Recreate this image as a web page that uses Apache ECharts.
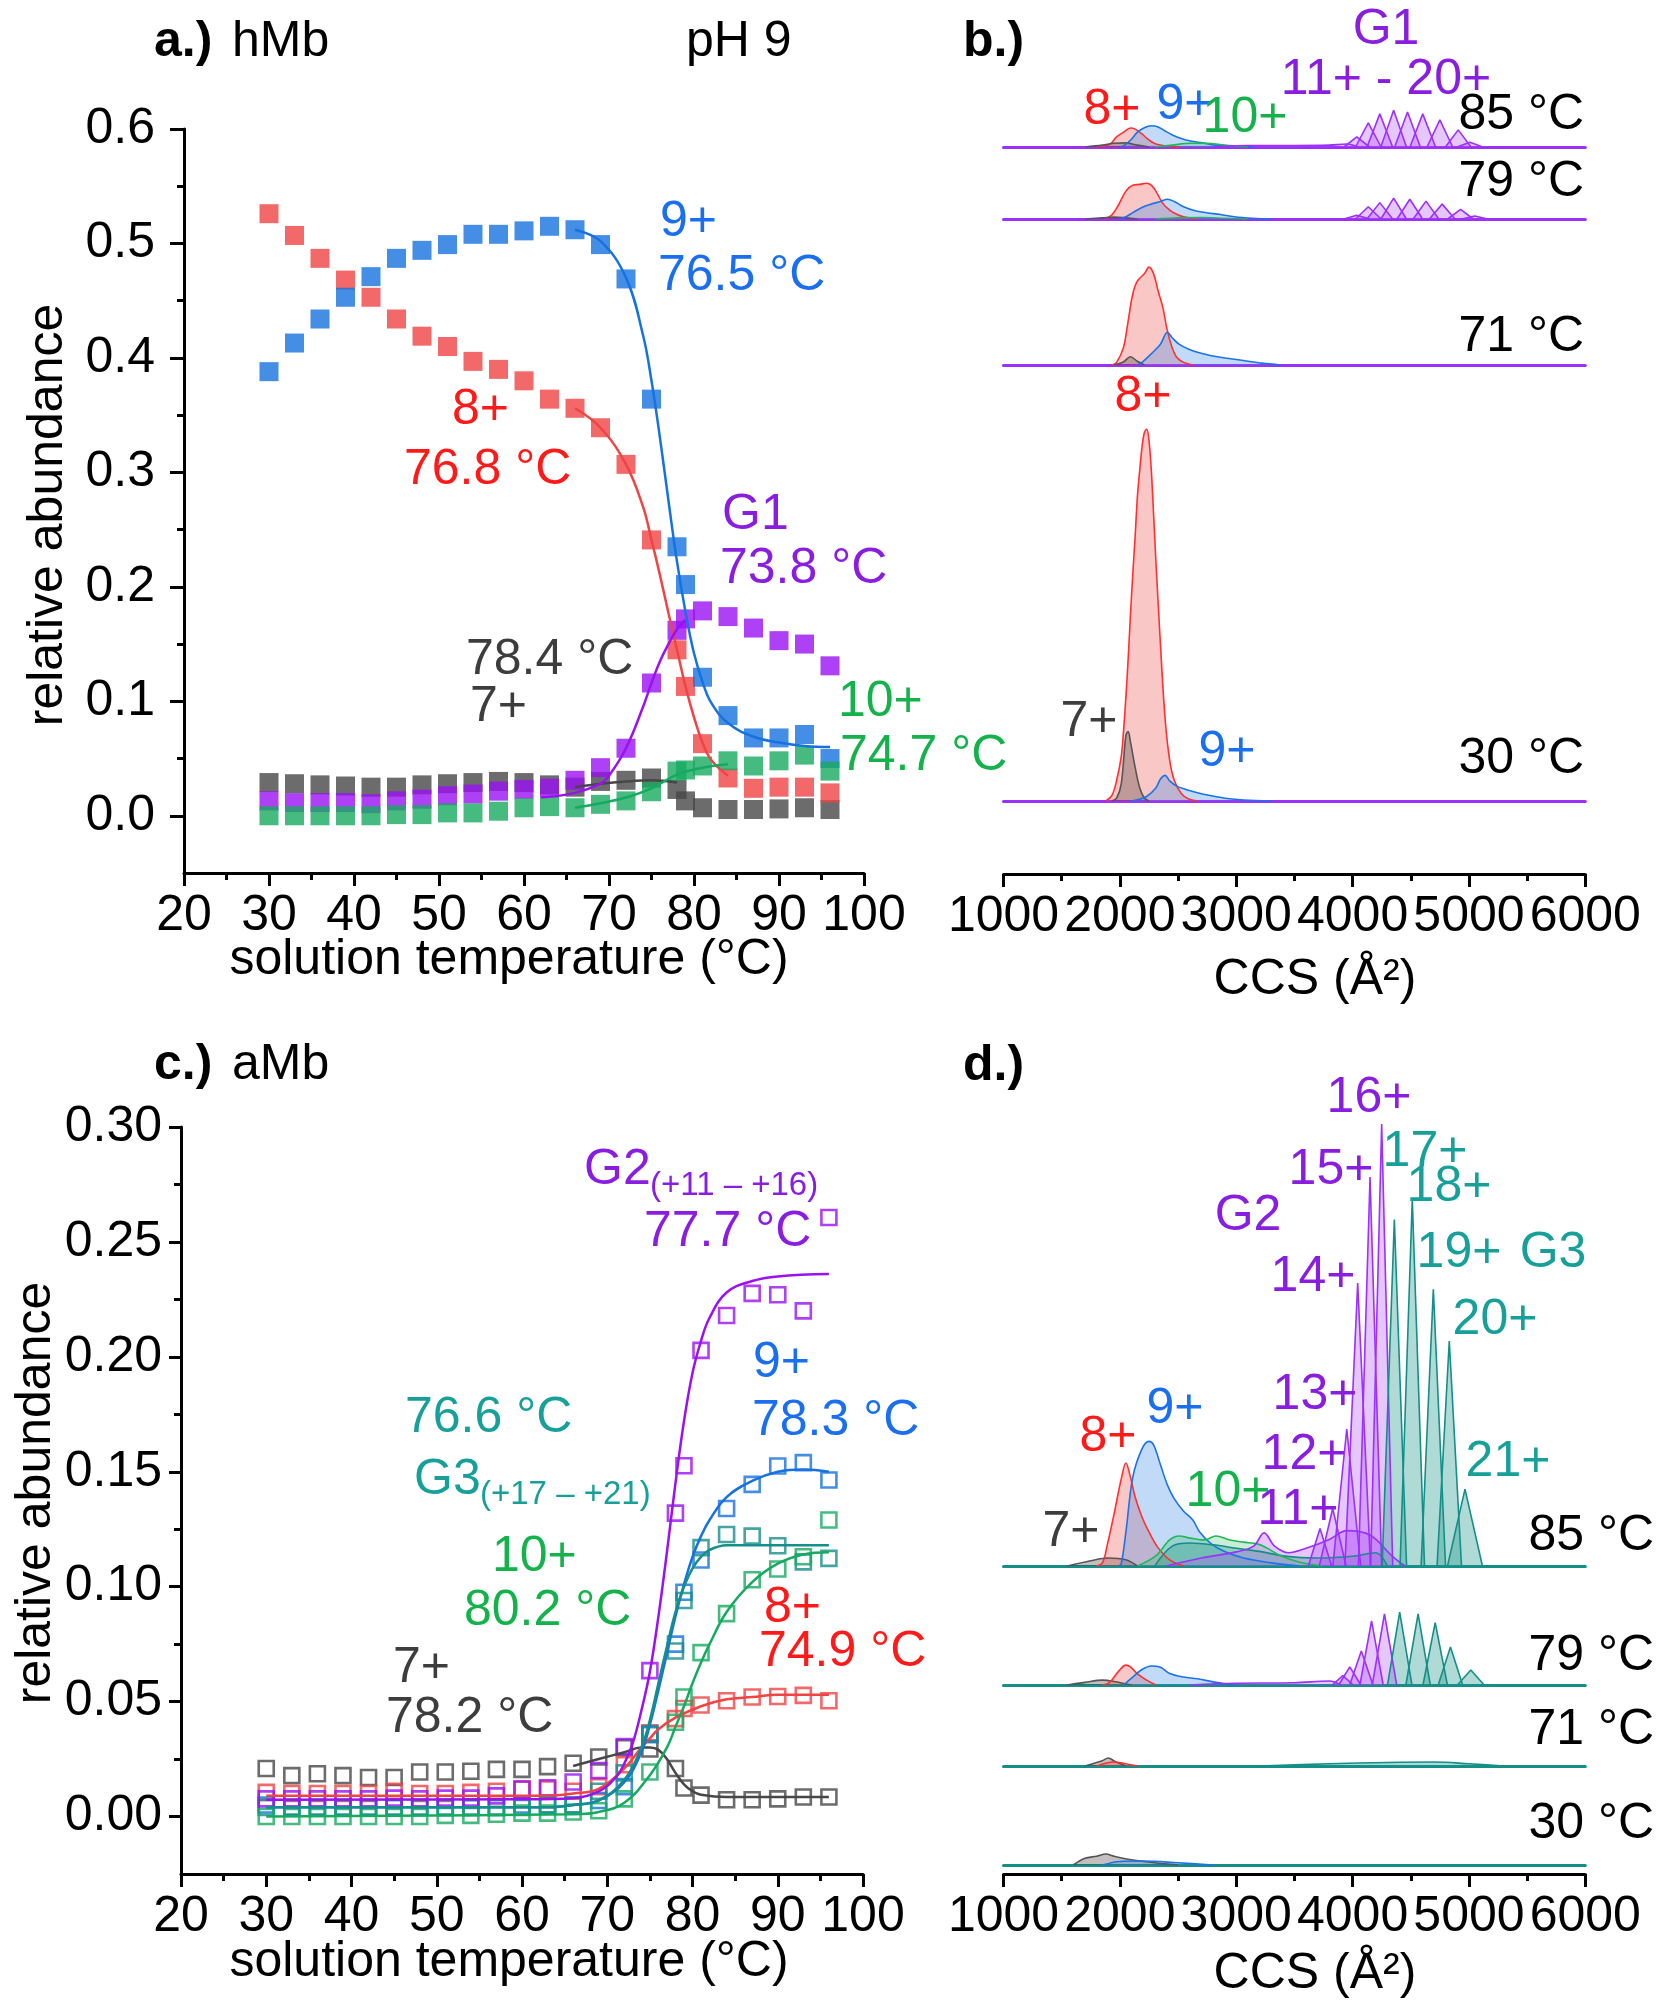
<!DOCTYPE html>
<html><head><meta charset="utf-8">
<script src="https://cdn.jsdelivr.net/npm/echarts@6/dist/echarts.min.js"></script>
<style>html,body{margin:0;padding:0;background:#fff}#c{width:1661px;height:2010px}</style>
</head><body><div id="c"></div>
<script>
// ---------------- DATA ----------------
const temps = [30,33,36,39,42,45,48,51,54,57,60,63,66,69,72,75,78,79,81,84,87,90,93,96];
// panel a (hMb) relative abundance
const a7  = [0.029,0.028,0.027,0.026,0.025,0.025,0.027,0.028,0.029,0.030,0.029,0.027,0.025,0.030,0.031,0.033,0.023,0.013,0.007,0.0055,0.0055,0.006,0.007,0.0055];
const a8  = [0.526,0.507,0.487,0.468,0.453,0.434,0.419,0.410,0.397,0.390,0.380,0.364,0.356,0.339,0.307,0.241,0.145,0.113,0.063,0.033,0.024,0.025,0.025,0.020];
const a9  = [0.388,0.413,0.434,0.453,0.471,0.487,0.494,0.499,0.508,0.508,0.511,0.515,0.512,0.499,0.469,0.364,0.235,0.202,0.121,0.0875,0.068,0.068,0.071,0.050];
const a10 = [0.0,0.0,0.0,0.0,0.0,0.001,0.001,0.0025,0.0025,0.004,0.007,0.008,0.007,0.010,0.013,0.021,0.039,0.040,0.0435,0.048,0.0435,0.048,0.053,0.039];
const aG1 = [0.013,0.0115,0.0115,0.0115,0.0105,0.013,0.0145,0.0175,0.019,0.0215,0.023,0.024,0.031,0.042,0.059,0.116,0.162,0.172,0.179,0.174,0.164,0.153,0.150,0.131];
// panel a fitted curves [T, value]
const a7Fit  = [[66,0.025],[69,0.028],[72,0.030],[75,0.031],[78,0.029]];
const a8Fit  = [[66,0.356],[69,0.339],[72,0.307],[74,0.27],[75,0.241],[76,0.21],[77,0.177],[78,0.145],[79,0.113],[80,0.086],[81,0.064],[82,0.049],[84,0.035]];
const a9Fit  = [[66,0.512],[69,0.502],[72,0.47],[74,0.42],[75,0.38],[76,0.33],[77,0.275],[78,0.222],[79,0.178],[80,0.142],[81,0.117],[82,0.099],[84,0.081],[87,0.069],[90,0.064],[93,0.061],[96,0.060]];
const a10Fit = [[66,0.007],[69,0.011],[72,0.016],[75,0.024],[78,0.036],[81,0.042],[84,0.045]];
const aG1Fit = [[62,0.016],[66,0.020],[69,0.028],[70,0.035],[72,0.059],[74,0.095],[75,0.116],[76,0.135],[77,0.150],[78,0.163],[79,0.171]];
// panel c (aMb)
const c7  = [0.0209,0.0178,0.0186,0.0178,0.017,0.017,0.0194,0.0194,0.0197,0.0205,0.0205,0.0217,0.0232,0.0259,0.0299,0.0294,0.0209,0.0124,0.0093,0.0073,0.0073,0.0077,0.0085,0.0085];
const c8  = [0.0105,0.010,0.010,0.010,0.010,0.011,0.010,0.010,0.0105,0.011,0.012,0.012,0.011,0.013,0.0225,0.0364,0.0426,0.047,0.0485,0.0504,0.052,0.0522,0.0527,0.0504];
const c9  = [0.005,0.004,0.004,0.004,0.004,0.004,0.004,0.004,0.004,0.004,0.005,0.005,0.005,0.007,0.013,0.0356,0.075,0.0976,0.1116,0.134,0.1445,0.1525,0.154,0.1464];
const c10 = [0.0,0.0,0.0,0.0,0.0,0.0,0.0,0.0005,0.0005,0.001,0.0015,0.0015,0.002,0.0025,0.0077,0.0194,0.041,0.052,0.0713,0.0883,0.103,0.1077,0.113,0.129];
const cG2 = [0.0077,0.0077,0.0077,0.0077,0.0077,0.008,0.0077,0.008,0.008,0.009,0.012,0.0125,0.015,0.020,0.0305,0.0635,0.132,0.1526,0.2028,0.218,0.2276,0.227,0.220,0.2606];
const cG3 = [0.004,0.004,0.004,0.004,0.004,0.004,0.004,0.004,0.004,0.004,0.004,0.005,0.005,0.011,0.019,0.036,0.072,0.094,0.117,0.1227,0.122,0.1178,0.1108,0.1123];
const c7Fit  = [[66,0.022],[69,0.025],[72,0.028],[74,0.030],[75,0.030],[76,0.029],[77,0.025],[78,0.019],[79,0.014],[80,0.011],[81,0.0095],[84,0.0085],[90,0.0085],[96,0.0085]];
const c8Fit  = [[30,0.009],[63,0.009],[66,0.010],[69,0.012],[72,0.021],[74,0.030],[75,0.034],[76,0.038],[78,0.043],[81,0.048],[84,0.051],[87,0.052],[90,0.053],[96,0.053]];
const c9Fit  = [[30,0.004],[63,0.004],[66,0.005],[69,0.007],[72,0.015],[74,0.028],[75,0.040],[76,0.055],[77,0.071],[78,0.087],[79,0.101],[80,0.113],[81,0.122],[82,0.129],[84,0.139],[87,0.146],[90,0.150],[93,0.151],[96,0.150]];
const c10Fit = [[30,0.0],[66,0.001],[69,0.002],[72,0.006],[75,0.018],[77,0.030],[78,0.039],[79,0.048],[80,0.058],[81,0.067],[82,0.075],[84,0.089],[87,0.102],[90,0.110],[93,0.114],[96,0.115]];
const cG2Fit = [[30,0.0073],[60,0.0075],[66,0.008],[69,0.011],[71,0.017],[72,0.023],[73,0.032],[74,0.046],[75,0.063],[76,0.087],[77,0.115],[78,0.145],[79,0.172],[80,0.193],[81,0.207],[82,0.217],[84,0.228],[87,0.233],[90,0.235],[96,0.236]];
const cG3Fit = [[30,0.004],[63,0.004],[66,0.005],[69,0.007],[72,0.016],[74,0.030],[75,0.042],[76,0.058],[77,0.074],[78,0.089],[79,0.100],[80,0.108],[81,0.113],[82,0.116],[84,0.118],[87,0.118],[90,0.118],[96,0.118]];
// panel b (hMb CCS distributions, % of max) [CCS, intensity]
const b85_7  = [[1700,0],[1850,0.5],[1950,1.0],[2050,1.1],[2150,0.5],[2250,0]];
const b85_8  = [[1794,0],[1913,0.7],[1972,2.7],[2032,4.0],[2091,5.1],[2131,4.8],[2190,3.5],[2250,1.9],[2309,0.8],[2389,0.35],[2508,0]];
const b85_9  = [[2000,0],[2032,0.3],[2091,1.8],[2151,4.0],[2210,5.2],[2270,5.7],[2329,5.4],[2389,4.3],[2448,3.3],[2508,2.5],[2607,1.6],[2706,1.1],[2825,0.5],[2984,0.2],[3143,0]];
const b85_10 = [[2300,0],[2450,0.5],[2600,1.0],[2750,1.0],[2900,0.5],[3100,0]];
const b85_G1low = [[2800,0],[3100,0.4],[3500,0.4],[3800,0.5],[3950,0.8],[4050,0]];
const b85_G1 = [[4036,2.7,110],[4135,6.5,110],[4234,8.9,110],[4353,9.9,110],[4472,9.4,110],[4603,8.9,110],[4750,7.3,110],[4908,4.6,110],[5008,1.3,110]];
const b79_7  = [[1700,0],[1850,0.3],[1950,0.5],[2050,0.3],[2150,0]];
const b79_8  = [[1870,0],[1932,1.1],[1992,4.0],[2052,7.5],[2111,9.1],[2171,9.3],[2230,9.6],[2270,9.1],[2309,7.5],[2369,4.2],[2428,2.4],[2488,1.3],[2548,0.6],[2667,0]];
const b79_9  = [[1990,0],[2052,0.6],[2111,1.7],[2190,3.1],[2270,4.0],[2349,4.7],[2409,5.3],[2468,4.7],[2548,3.3],[2647,2.2],[2746,1.7],[2865,1.2],[2984,0.6],[3143,0.2],[3301,0]];
const b79_10 = [[2300,0],[2500,0.3],[2700,0.4],[2900,0.2],[3100,0]];
const b79_G1 = [[4036,1.0,110],[4135,3.3,110],[4234,4.4,110],[4353,5.6,110],[4492,5.3,110],[4631,4.8,110],[4770,4.0,110],[4928,2.6,110],[5050,0.8,110]];
const b71_7  = [[1950,0],[2030,0.8],[2091,2.2],[2150,1.0],[2210,0]];
const b71_8  = [[1930,0],[1972,0.7],[2032,4.8],[2071,11.8],[2111,19.1],[2151,22.6],[2210,24.5],[2250,26.3],[2290,24.5],[2329,19.9],[2369,15.5],[2409,9.1],[2448,4.8],[2488,2.1],[2548,0.7],[2627,0]];
const b71_9  = [[2150,0],[2190,0.7],[2270,3.0],[2349,5.6],[2409,8.8],[2448,7.4],[2508,5.6],[2587,4.3],[2667,3.4],[2786,2.5],[2905,1.9],[3063,1.2],[3222,0.5],[3381,0]];
const b30_7  = [[1930,0],[1972,0.75],[2012,4.6],[2052,17.7],[2071,18.7],[2091,15.9],[2131,9.1],[2171,3.5],[2210,0.8],[2250,0]];
const b30_8  = [[1880,0],[1932,1.5],[1972,5.5],[2012,12],[2032,19],[2052,28],[2071,38],[2091,50],[2111,61],[2131,71],[2151,82],[2171,89],[2190,95],[2210,99],[2230,100],[2250,97],[2270,89],[2290,77],[2309,65],[2349,42],[2389,22],[2428,11],[2468,5.5],[2528,2],[2587,0.6],[2667,0]];
const b30_9  = [[2100,0],[2151,0.3],[2230,1.2],[2309,3.5],[2349,5.9],[2389,6.9],[2428,5.4],[2488,4.0],[2567,3.1],[2667,2.2],[2786,1.4],[2905,0.75],[3063,0.27],[3301,0]];
// panel d (aMb CCS distributions, % of max)
const d85_7  = [[1550,0],[1750,1.2],[1900,1.8],[2050,1.4],[2150,0]];
const d85_8  = [[1794,0],[1850,0.7],[1893,4.9],[1952,12],[2012,19.7],[2052,23.3],[2091,20.1],[2131,15.6],[2190,11.1],[2250,7.7],[2329,4.1],[2428,1.4],[2548,0]];
const d85_9  = [[1990,0],[2012,0.5],[2052,7.7],[2111,20.1],[2190,26.5],[2250,28.2],[2290,27.4],[2349,22.9],[2409,18.3],[2468,15.2],[2548,12.4],[2627,10.4],[2686,7.7],[2786,5.0],[2905,3.2],[3063,1.8],[3301,0.7],[3540,0]];
const d85_G3low = [[2300,0],[2450,4.5],[2600,5.2],[2800,4.8],[3000,4.0],[3200,3.3],[3400,2.3],[3700,1.8],[4000,2.2],[4200,3.0],[4300,0]];
const d85_10 = [[2151,0],[2309,2.3],[2428,5.9],[2508,6.8],[2607,6.3],[2726,5.9],[2825,6.8],[2944,5.9],[3063,5.4],[3182,5.0],[3262,4.1],[3381,2.3],[3540,0.9],[3738,0]];
const d85_G2low = [[2400,0],[2700,1.8],[3000,3.2],[3150,4.5],[3240,7.5],[3330,4.5],[3450,3.0],[3600,4.0],[3800,6.0],[3950,8.0],[4150,7.0],[4350,2.0],[4450,0]];
const d85_G2 = [[3720,8.5,100],[3829,13,115],[3950,31,120],[4044,64,110],[4150,88,100],[4250,100,95]];
const d85_G3 = [[4359,78.4,105],[4513,83,105],[4694,62.6,105],[4831,50.9,105],[4966,17.4,150]];
const d79_7  = [[1550,0],[1700,0.6],[1850,1.1],[1950,0.8],[2100,0]];
const d79_8  = [[1850,0],[1913,0.6],[1992,3.2],[2052,4.5],[2091,4.1],[2151,2.5],[2230,1.1],[2309,0]];
const d79_9  = [[2032,0],[2111,1.8],[2190,3.5],[2270,4.3],[2349,4.0],[2428,2.6],[2548,1.8],[2667,1.4],[2825,0.6],[2984,0]];
const d79_G2low = [[2600,0],[3000,0.4],[3500,0.5],[3800,0.9],[3900,0]];
const d79_G2 = [[3916,2.1,90],[3976,4.1,95],[4075,7.7,100],[4163,14.5,100],[4274,16.1,105]];
const d79_G3 = [[4405,16.5,105],[4563,16.1,105],[4710,14.1,105],[4841,8.6,105],[5016,3.4,115]];
const d71_7  = [[1700,0],[1850,1.2],[1900,1.8],[1960,1.0],[2050,0]];
const d71_8  = [[1800,0],[1950,0.9],[2050,0.5],[2150,0]];
const d71_G3 = [[3200,0],[3800,0.5],[4300,0.8],[4700,0.9],[5000,0.5],[5300,0]];
const d30_7  = [[1600,0],[1700,1.5],[1800,2.0],[1880,2.5],[1950,2.0],[2100,1.2],[2300,0.5],[2500,0]];
const d30_9  = [[1850,0],[2000,0.8],[2200,0.9],[2500,0.5],[2800,0]];
// tick values
const aYMajor = [0,0.1,0.2,0.3,0.4,0.5,0.6];
const aYMinor = [0.05,0.15,0.25,0.35,0.45,0.55];
const cYMajor = [0,0.05,0.10,0.15,0.20,0.25,0.30];
const cYMinor = [0.025,0.075,0.125,0.175,0.225,0.275];

// ---------------- STYLE / LAYOUT ----------------
const FONT = '"Liberation Sans", Arial, sans-serif';
const FS = 50;
const COL = {gray:'#474747', red:'#f04444', blue:'#1672e0', purple:'#9a12f2', green:'#16aa60', teal:'#158f8a'};
const TXT = {gray:'#3d3d3d', red:'#ff1a1a', blue:'#1a6ff0', purple:'#8a1ee0', green:'#14b24a', teal:'#17a09a', black:'#000'};
const FILL = {gray:'rgba(70,55,55,0.45)', red:'rgba(240,80,80,0.45)', blue:'rgba(60,140,230,0.45)', purple:'rgba(175,80,245,0.45)', green:'rgba(40,180,90,0.35)', teal:'rgba(30,150,140,0.5)'};
const STROKE = {gray:'#555', red:'#ff3030', blue:'#1a73e8', purple:'#9b30ff', green:'#1db954', teal:'#148f88'};

const grids = [], xAxes = [], yAxes = [], series = [];
function axisStyle(){return {color:'#000', width:3};}
// panel a
grids.push({left:184, top:129, width:680, height:744});
xAxes.push({gridIndex:0, type:'value', min:20, max:100, interval:10,
  axisLine:{show:true,onZero:false,lineStyle:axisStyle()}, axisTick:{length:13,lineStyle:axisStyle()},
  minorTick:{show:true,splitNumber:2,length:7,lineStyle:axisStyle()}, splitLine:{show:false},
  axisLabel:{fontSize:FS,fontFamily:FONT,color:'#000',margin:18}});
yAxes.push({gridIndex:0, type:'value', min:-0.05, max:0.6,
  axisLine:{show:true,onZero:false,lineStyle:axisStyle()}, axisTick:{length:14,lineStyle:axisStyle(),customValues:aYMajor},
  splitLine:{show:false}, axisLabel:{customValues:aYMajor, formatter:v=>v.toFixed(1), fontSize:FS,fontFamily:FONT,color:'#000',margin:29}});
// panel c
grids.push({left:181, top:1127, width:682, height:747});
xAxes.push({gridIndex:1, type:'value', min:20, max:100, interval:10,
  axisLine:{show:true,onZero:false,lineStyle:axisStyle()}, axisTick:{length:13,lineStyle:axisStyle()},
  minorTick:{show:true,splitNumber:2,length:7,lineStyle:axisStyle()}, splitLine:{show:false},
  axisLabel:{fontSize:FS,fontFamily:FONT,color:'#000',margin:18}});
yAxes.push({gridIndex:1, type:'value', min:-0.025, max:0.30,
  axisLine:{show:true,onZero:false,lineStyle:axisStyle()}, axisTick:{length:12,lineStyle:axisStyle(),customValues:cYMajor},
  splitLine:{show:false}, axisLabel:{customValues:cYMajor, formatter:v=>v.toFixed(2), fontSize:FS,fontFamily:FONT,color:'#000',margin:19}});

// ridge rows
const B_SCALE = 3.72, D_SCALE = 4.42;
const CCS_LEFT = 1003.5, CCS_W = 581.8;
function addRow(baseline, yMax, scale, lineColor){
  const gi = grids.length;
  grids.push({left:CCS_LEFT, width:CCS_W, top: baseline - yMax*scale, height: yMax*scale});
  xAxes.push({gridIndex:gi, type:'value', min:1000, max:6000, axisLine:{show:true,lineStyle:{color:lineColor,width:3}},
    axisTick:{show:false}, axisLabel:{show:false}, splitLine:{show:false}});
  yAxes.push({gridIndex:gi, type:'value', min:0, max:yMax, show:false, splitLine:{show:false}});
  return gi;
}
function addAxisGrid(axisY){
  const gi = grids.length;
  grids.push({left:CCS_LEFT, width:CCS_W, top: axisY-40, height:40});
  xAxes.push({gridIndex:gi, type:'value', min:1000, max:6000, interval:1000,
    axisLine:{show:true,onZero:false,lineStyle:axisStyle()}, axisTick:{length:13,lineStyle:axisStyle()},
    minorTick:{show:true,splitNumber:2,length:7,lineStyle:axisStyle()}, splitLine:{show:false},
    axisLabel:{fontSize:FS,fontFamily:FONT,color:'#000',margin:18, formatter:v=>String(v)}});
  yAxes.push({gridIndex:gi, type:'value', min:0, max:1, show:false, splitLine:{show:false}});
  return gi;
}
const gB85 = addRow(147, 12, B_SCALE, STROKE.purple);
const gB79 = addRow(219, 12, B_SCALE, STROKE.purple);
const gB71 = addRow(365, 30, B_SCALE, STROKE.purple);
const gB30 = addRow(801, 100, B_SCALE, STROKE.purple);
addAxisGrid(874);
const gD85 = addRow(1566, 100, D_SCALE, STROKE.teal);
const gD79 = addRow(1685, 20, D_SCALE, STROKE.teal);
const gD71 = addRow(1766, 5, D_SCALE, STROKE.teal);
const gD30 = addRow(1865, 5, D_SCALE, STROKE.teal);
addAxisGrid(1874);
// minor y ticks for a and c
yAxes.push({gridIndex:0, type:'value', min:-0.05, max:0.6, position:'left', axisLine:{show:false},
  axisTick:{show:true,length:7,lineStyle:axisStyle(),customValues:aYMinor}, axisLabel:{show:false}, splitLine:{show:false}});
yAxes.push({gridIndex:1, type:'value', min:-0.025, max:0.30, position:'left', axisLine:{show:false},
  axisTick:{show:true,length:7,lineStyle:axisStyle(),customValues:cYMinor}, axisLabel:{show:false}, splitLine:{show:false}});

// series helpers
function scat(gi, vals, col, open){
  series.push({type:'scatter', xAxisIndex:gi, yAxisIndex:gi, data: temps.map((t,i)=>[t,vals[i]]),
    symbol:'rect', symbolSize: open?15:19, z:3,
    itemStyle: open ? {color:'rgba(255,255,255,0)', borderColor:col, borderWidth:2.6} : {color:col}});
}
function fit(gi, pts, col){
  series.push({type:'line', xAxisIndex:gi, yAxisIndex:gi, data:pts, symbol:'none', smooth:0.4, z:4,
    lineStyle:{color:col,width:2.5}});
}
function area(gi, pts, key, smooth){
  series.push({type:'line', xAxisIndex:gi, yAxisIndex:gi, data:pts, symbol:'none',
    smooth: smooth===undefined?0.35:smooth, lineStyle:{color:STROKE[key],width:1.6}, areaStyle:{color:FILL[key]}});
}
function peaks(gi, list, key){
  list.forEach(p=>area(gi, [[p[0]-p[2],0],[p[0],p[1]],[p[0]+p[2],0]], key, false));
}

// panel a
scat(0,a7,COL.gray); scat(0,a8,COL.red); scat(0,a9,COL.blue); scat(0,aG1,COL.purple); scat(0,a10,COL.green);
fit(0,a7Fit,COL.gray); fit(0,a8Fit,COL.red); fit(0,a9Fit,COL.blue); fit(0,aG1Fit,COL.purple); fit(0,a10Fit,COL.green);
// panel c
scat(1,c7,COL.gray,1); scat(1,c8,COL.red,1); scat(1,c9,COL.blue,1); scat(1,cG3,COL.teal,1); scat(1,c10,COL.green,1); scat(1,cG2,COL.purple,1);
fit(1,c7Fit,COL.gray); fit(1,c8Fit,COL.red); fit(1,c9Fit,COL.blue); fit(1,cG3Fit,COL.teal); fit(1,c10Fit,COL.green); fit(1,cG2Fit,COL.purple);
// panel b
area(gB85,b85_8,'red'); area(gB85,b85_7,'gray'); area(gB85,b85_9,'blue'); area(gB85,b85_10,'green'); area(gB85,b85_G1low,'purple'); peaks(gB85,b85_G1,'purple');
area(gB79,b79_8,'red'); area(gB79,b79_7,'gray'); area(gB79,b79_9,'blue'); area(gB79,b79_10,'green'); peaks(gB79,b79_G1,'purple');
area(gB71,b71_8,'red'); area(gB71,b71_7,'gray'); area(gB71,b71_9,'blue');
area(gB30,b30_8,'red'); area(gB30,b30_7,'gray'); area(gB30,b30_9,'blue');
// panel d
area(gD85,d85_7,'gray'); area(gD85,d85_8,'red'); area(gD85,d85_9,'blue'); area(gD85,d85_G3low,'teal'); area(gD85,d85_10,'green');
area(gD85,d85_G2low,'purple'); peaks(gD85,d85_G2,'purple'); peaks(gD85,d85_G3,'teal');
area(gD79,d79_7,'gray'); area(gD79,d79_8,'red'); area(gD79,d79_9,'blue'); area(gD79,d79_G2low,'purple'); peaks(gD79,d79_G2,'purple'); peaks(gD79,d79_G3,'teal');
area(gD71,d71_7,'gray'); area(gD71,d71_8,'red'); area(gD71,d71_G3,'teal');
area(gD30,d30_7,'gray'); area(gD30,d30_9,'blue');

// ---------------- TEXT ----------------
const texts = [];
function T(text, x, y, color, align, size, weight, rot){
  texts.push({type:'text', x:x, y:y, rotation: rot||0, z:100,
    style:{text:text, fill:color||'#000', fontSize:size||FS, fontFamily:FONT, fontWeight:weight||'normal',
      align:align||'left', verticalAlign:'middle', textAlign:align||'left', textVerticalAlign:'middle'}});
}
// panel a
T('a.)',154,42,'#000','left',FS,'bold'); T('hMb',232,42); T('pH 9',686,42);
T('9+',660,222,TXT.blue); T('76.5 °C',658,276,TXT.blue);
T('8+',452,410,TXT.red); T('76.8 °C',404,470,TXT.red);
T('G1',722,515,TXT.purple); T('73.8 °C',720,569,TXT.purple);
T('78.4 °C',466,660,TXT.gray); T('7+',470,707,TXT.gray);
T('10+',838,702,TXT.green); T('74.7 °C',840,756,TXT.green);
T('solution temperature (°C)',509,960,'#000','center');
T('relative abundance',48,515,'#000','center',FS,'normal',Math.PI/2);
// panel b
T('b.)',963,42,'#000','left',FS,'bold');
T('G1',1386,30,TXT.purple,'center'); T('11+ - 20+',1386,80,TXT.purple,'center');
T('8+',1112,110,TXT.red,'center'); T('9+',1185,105,TXT.blue,'center'); T('10+',1245,118,TXT.green,'center');
T('85 °C',1584,115,'#000','right'); T('79 °C',1584,182,'#000','right'); T('71 °C',1584,337,'#000','right');
T('8+',1143,397,TXT.red,'center'); T('7+',1089,722,TXT.gray,'center'); T('9+',1227,752,TXT.blue,'center');
T('30 °C',1584,759,'#000','right');
T('CCS (Å²)',1315,980,'#000','center');
// panel c
T('c.)',154,1065,'#000','left',FS,'bold'); T('aMb',232,1065);
T('G2',584,1170,TXT.purple); T('(+11 – +16)',650,1186,TXT.purple,'left',33);
T('77.7 °C',644,1232,TXT.purple);
T('9+',753,1363,TXT.blue); T('78.3 °C',752,1421,TXT.blue);
T('76.6 °C',405,1418,TXT.teal); T('G3',414,1480,TXT.teal); T('(+17 – +21)',480,1495,TXT.teal,'left',33);
T('10+',492,1557,TXT.green); T('80.2 °C',464,1611,TXT.green);
T('8+',764,1608,TXT.red); T('74.9 °C',759,1652,TXT.red);
T('7+',393,1668,TXT.gray); T('78.2 °C',386,1718,TXT.gray);
T('solution temperature (°C)',509,1962,'#000','center');
T('relative abundance',36,1493,'#000','center',FS,'normal',Math.PI/2);
// panel d
T('d.)',963,1066,'#000','left',FS,'bold');
T('16+',1369,1098,TXT.purple,'center'); T('15+',1331,1170,TXT.purple,'center');
T('17+',1425,1152,TXT.teal,'center'); T('18+',1449,1187,TXT.teal,'center');
T('G2',1248,1216,TXT.purple,'center'); T('19+',1459,1253,TXT.teal,'center'); T('G3',1553,1253,TXT.teal,'center');
T('14+',1313,1277,TXT.purple,'center'); T('20+',1495,1320,TXT.teal,'center');
T('13+',1315,1395,TXT.purple,'center'); T('9+',1175,1409,TXT.blue,'center'); T('8+',1108,1437,TXT.red,'center');
T('12+',1304,1455,TXT.purple,'center'); T('21+',1508,1462,TXT.teal,'center');
T('10+',1228,1492,TXT.green,'center'); T('11+',1298,1510,TXT.purple,'center'); T('7+',1071,1532,TXT.gray,'center');
T('85 °C',1654,1536,'#000','right'); T('79 °C',1654,1656,'#000','right');
T('71 °C',1654,1730,'#000','right'); T('30 °C',1654,1824,'#000','right');
T('CCS (Å²)',1315,1974,'#000','center');

const chart = echarts.init(document.getElementById('c'), null, {renderer:'canvas'});
chart.setOption({animation:false, backgroundColor:'#fff', grid:grids, xAxis:xAxes, yAxis:yAxes, series:series, graphic:{elements:texts}});
</script></body></html>
